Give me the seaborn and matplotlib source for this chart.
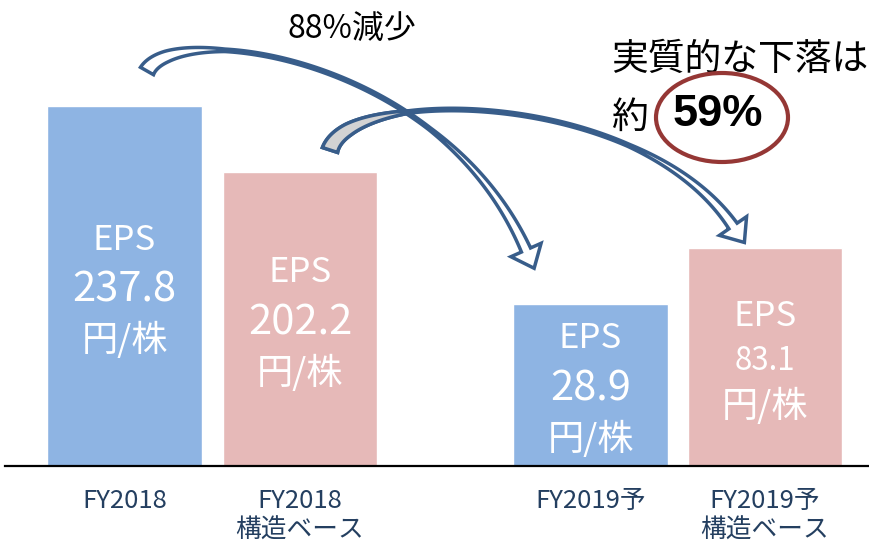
import numpy as np
import pandas as pd
import matplotlib
matplotlib.use("Agg")
import matplotlib.pyplot as plt
from matplotlib.patches import Polygon, Ellipse
import seaborn as sns

# ---- data -------------------------------------------------------------
categories = ["FY2018", "FY2018\n構造ベース", "FY2019予", "FY2019予\n構造ベース"]
eps_values = [237.8, 202.2, 28.9, 83.1]          # EPS (円/株)
bar_heights = [360, 294, 162, 218]              # schematic bar heights
series = ["実績", "構造ベース", "実績", "構造ベース"]
drop_label = "88%減少"
real_drop_label = "実質的な下落は"
real_drop_prefix = "約"
real_drop_value = "59%"

# ---- layout / style ---------------------------------------------------
bar_pos = [124.5, 300, 590.5, 765]
number_sizes = [30, 30, 30, 22.5]
line_gap = [50, 50, 50, 45]
palette = {"実績": "#8EB4E3", "構造ベース": "#E6B9B8"}
arrow_color = "#385D8A"
label_color = "#243F60"

sns.set_style("white")
plt.rcParams["font.family"] = ["Noto Sans CJK JP", "DejaVu Sans"]

W, H, BASE = 869, 543, 77
fig = plt.figure(figsize=(W / 100, H / 100), dpi=100)
ax = fig.add_axes([5 / W, BASE / H, (W - 5) / W, (H - BASE) / H])

df = pd.DataFrame({"pos": bar_pos, "height": bar_heights, "series": series})
sns.barplot(data=df, x="pos", y="height", hue="series", palette=palette,
            native_scale=True, dodge=False, width=0.888, legend=False,
            saturation=1, ax=ax)

ax.set_xlim(5, W)
ax.set_ylim(0, H - BASE)
for s in ["top", "right", "left"]:
    ax.spines[s].set_visible(False)
ax.spines["bottom"].set_color("black")
ax.spines["bottom"].set_linewidth(1.6)
ax.set_yticks([])
ax.set_xticks(bar_pos)
ax.set_xticklabels(categories, fontsize=18.5, color=label_color,
                   linespacing=1.15)
ax.tick_params(axis="x", length=0, pad=16)
ax.set_xlabel("")
ax.set_ylabel("")

# EPS text inside each bar
for x, h, v, ns, g in zip(bar_pos, bar_heights, eps_values, number_sizes, line_gap):
    c = h / 2 - 4
    ax.text(x, c + g, "EPS", ha="center", va="center", color="white", fontsize=25)
    ax.text(x, c, f"{v:.1f}", ha="center", va="center", color="white", fontsize=ns)
    ax.text(x, c - g, "円/株", ha="center", va="center", color="white", fontsize=26)


def to_data(p):
    p = np.asarray(p, float)
    return np.column_stack([p[:, 0], (H - BASE) - p[:, 1]])


def ribbon_arrow(ctrl, knots, widths, head_w, head_len, fill="white",
                 tail_fill=None, tail_end=0.3, z=5):
    P = to_data(ctrl)
    t = np.linspace(0, 1, 300)[:, None]
    pts = ((1 - t) ** 3 * P[0] + 3 * (1 - t) ** 2 * t * P[1]
           + 3 * (1 - t) * t ** 2 * P[2] + t ** 3 * P[3])
    tan = np.gradient(pts, axis=0)
    tan /= np.linalg.norm(tan, axis=1)[:, None]
    nrm = np.column_stack([-tan[:, 1], tan[:, 0]])
    w = np.interp(t[:, 0], knots, widths)[:, None] / 2
    left, right = pts + nrm * w, pts - nrm * w
    base, d, n = pts[-1], tan[-1], nrm[-1]
    head = np.array([base + n * head_w / 2, base + d * head_len, base - n * head_w / 2])
    poly = np.vstack([left, head, right[::-1]])
    ax.add_patch(Polygon(poly, closed=True, facecolor=fill, edgecolor=arrow_color,
                         linewidth=2.5, joinstyle="miter", zorder=z))
    if tail_fill is not None:
        k = int(tail_end * len(pts))
        tail = np.vstack([left[:k], right[:k][::-1]])
        ax.add_patch(Polygon(tail, closed=True, facecolor=tail_fill,
                             edgecolor=arrow_color, linewidth=2.5, zorder=z + 0.1))


# 構造ベース同士の矢印 (後ろ側)
ribbon_arrow([(330, 150), (350, 85), (640, 90), (733, 226)],
             [0, 0.12, 0.3, 0.74, 0.9, 1], [16, 12, 2.5, 2.5, 7, 10],
             head_w=33, head_len=20, tail_fill="#D3D3D3", tail_end=0.3, z=5)
# 実績同士の矢印 (前側)
ribbon_arrow([(147, 71), (175, 20), (440, 55), (526, 250)],
             [0, 0.12, 0.3, 0.74, 0.9, 1], [15, 11, 2.5, 2.5, 7, 10],
             head_w=33, head_len=20, z=6)

# annotations
ax.text(352, (H - BASE) - 30, drop_label, ha="center", va="center",
        fontsize=23, color="black")
ax.text(611, (H - BASE) - 59, real_drop_label, ha="left", va="center",
        fontsize=26.5, color="black")
ax.text(611, (H - BASE) - 117, real_drop_prefix, ha="left", va="center",
        fontsize=26.5, color="black")
ax.text(718, (H - BASE) - 114, real_drop_value, ha="center", va="center",
        fontsize=32.5, fontweight="bold", family=["Liberation Sans", "DejaVu Sans"],
        color="black")
ax.add_patch(Ellipse((722, (H - BASE) - 117.5), 132, 89, fill=False,
                     edgecolor="#953735", linewidth=3, zorder=7))

fig.savefig("out.png", dpi=100)
